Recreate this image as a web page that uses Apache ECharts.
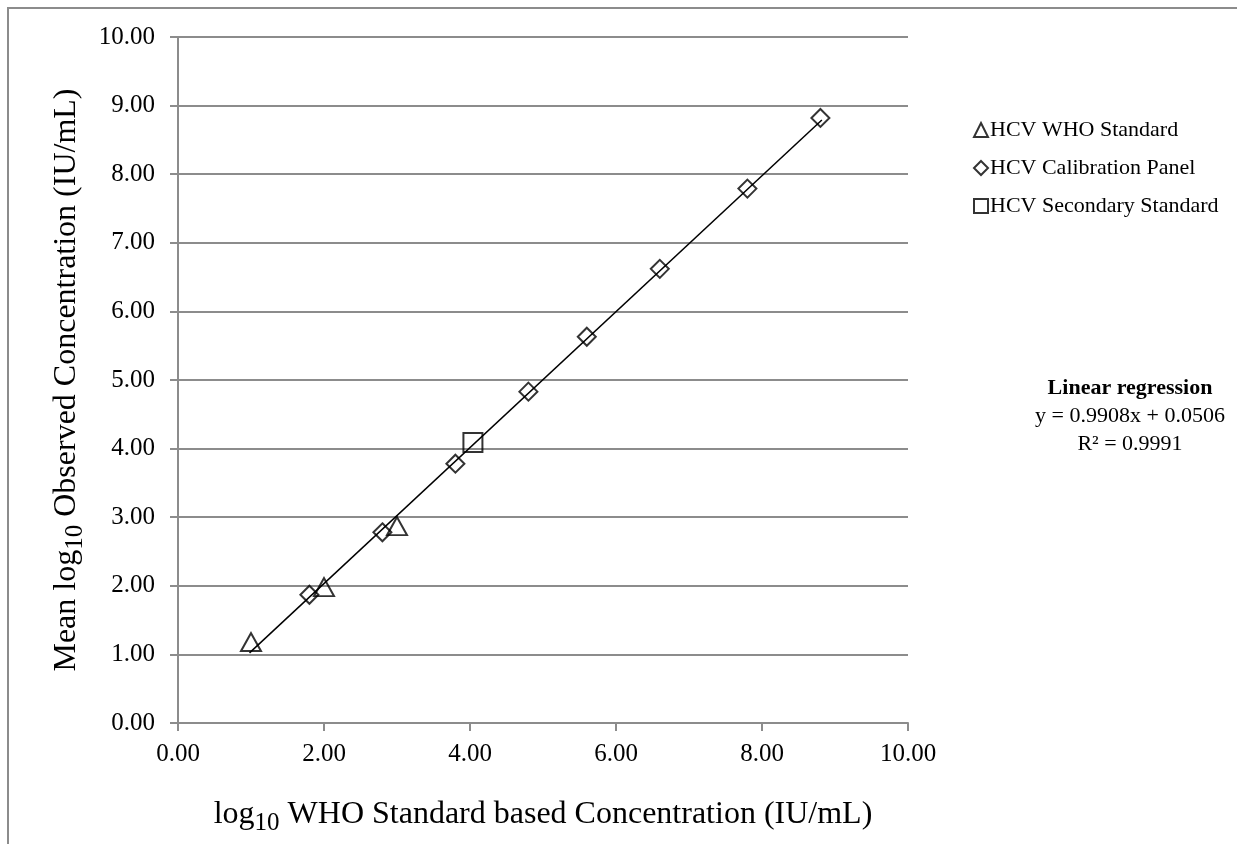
<!DOCTYPE html>
<html>
<head>
<meta charset="utf-8">
<title>HCV calibration</title>
<script src="https://cdn.jsdelivr.net/npm/echarts@6/dist/echarts.min.js"></script>
<style>
  html, body { margin: 0; padding: 0; background: #fff; }
  #chart { width: 1237px; height: 844px; }
</style>
</head>
<body>
<div id="chart"></div>
<script>
  // data
  var seriesNames = ['HCV WHO Standard', 'HCV Calibration Panel', 'HCV Secondary Standard'];
  var whoX = [1.00, 2.00, 3.00];
  var whoY = [1.18, 1.98, 2.87];
  var calX = [1.80, 2.80, 3.80, 4.80, 5.60, 6.60, 7.80, 8.80];
  var calY = [1.87, 2.78, 3.78, 4.83, 5.63, 6.62, 7.79, 8.82];
  var secX = [4.04];
  var secY = [4.09];
  // trend line (from the stated regression)
  var slope = 0.9908;
  var intercept = 0.0506;
  var trendX = [0.98, 8.82];

  function pairs(xs, ys) {
    return xs.map(function (x, i) { return [x, ys[i]]; });
  }

  var gray = '#8c8c8c';
  var serif = '"Liberation Serif", "Times New Roman", serif';

  var chart = echarts.init(document.getElementById('chart'));
  chart.setOption({
    animation: false,
    backgroundColor: '#fff',
    textStyle: { fontFamily: serif, color: '#000' },
    grid: { left: 178, right: 329, top: 37, bottom: 121 },
    xAxis: {
      type: 'value',
      min: 0, max: 10, interval: 2,
      axisLine: { lineStyle: { color: gray, width: 2 } },
      axisTick: { show: true, length: 8, lineStyle: { color: gray, width: 2 } },
      axisLabel: {
        fontSize: 25, fontFamily: serif, color: '#000', margin: 19,
        formatter: function (v) { return v.toFixed(2); }
      },
      splitLine: { show: false },
      name: '{a|log}{s|10}{a| WHO Standard based Concentration (IU/mL)}',
      nameLocation: 'middle',
      nameGap: 70,
      nameTextStyle: {
        rich: {
          a: { fontSize: 32, fontFamily: serif, color: '#000' },
          s: { fontSize: 25, fontFamily: serif, color: '#000', padding: [18, 0, 0, 0] }
        }
      }
    },
    yAxis: {
      type: 'value',
      min: 0, max: 10, interval: 1,
      axisLine: { show: true, lineStyle: { color: gray, width: 2 } },
      axisTick: { show: true, length: 8, lineStyle: { color: gray, width: 2 } },
      axisLabel: {
        fontSize: 25, fontFamily: serif, color: '#000', margin: 23,
        formatter: function (v) { return v.toFixed(2); }
      },
      splitLine: { show: true, lineStyle: { color: gray, width: 2 } },
      name: '{a|Mean log}{s|10}{a| Observed Concentration (IU/mL)}',
      nameLocation: 'middle',
      nameRotate: 90,
      nameGap: 88,
      nameTextStyle: {
        rich: {
          a: { fontSize: 32, fontFamily: serif, color: '#000' },
          s: { fontSize: 25, fontFamily: serif, color: '#000', padding: [18, 0, 0, 0] }
        }
      }
    },
    legend: {
      data: seriesNames,
      orient: 'vertical',
      left: 968,
      top: 114,
      itemGap: 16,
      itemWidth: 14,
      itemHeight: 14,
      textStyle: { fontSize: 22, lineHeight: 22, fontFamily: serif, color: '#000', padding: [0, 0, 0, -3] }
    },
    graphic: [
      {
        type: 'rect',
        shape: { x: 8, y: 8, width: 1400, height: 1000 },
        style: { fill: 'none', stroke: gray, lineWidth: 2 },
        silent: true
      },
      {
        type: 'text',
        x: 1130,
        y: 374,
        style: {
          text: '{b|Linear regression}\n{n|y = 0.9908x + 0.0506}\n{n|R² = 0.9991}',
          align: 'center',
          rich: {
            b: { fontSize: 22, fontWeight: 'bold', fontFamily: serif, color: '#000', lineHeight: 28, align: 'center' },
            n: { fontSize: 22, fontFamily: serif, color: '#000', lineHeight: 28, align: 'center' }
          }
        }
      }
    ],
    series: [
      {
        name: 'trend',
        type: 'line',
        showSymbol: false,
        symbol: 'none',
        lineStyle: { color: '#000', width: 1.5 },
        data: trendX.map(function (x) { return [x, slope * x + intercept]; }),
        z: 3
      },
      {
        name: seriesNames[0],
        type: 'scatter',
        symbol: 'triangle',
        symbolSize: [20, 18],
        itemStyle: { color: 'rgba(255,255,255,0)', borderColor: '#000', borderWidth: 2 },
        data: pairs(whoX, whoY),
        z: 4
      },
      {
        name: seriesNames[1],
        type: 'scatter',
        symbol: 'diamond',
        symbolSize: [18, 18],
        itemStyle: { color: 'rgba(255,255,255,0)', borderColor: '#000', borderWidth: 2 },
        data: pairs(calX, calY),
        z: 4
      },
      {
        name: seriesNames[2],
        type: 'scatter',
        symbol: 'rect',
        symbolSize: [19, 19],
        itemStyle: { color: 'rgba(255,255,255,0)', borderColor: '#000', borderWidth: 2 },
        data: pairs(secX, secY),
        z: 4
      }
    ]
  });
</script>
</body>
</html>
